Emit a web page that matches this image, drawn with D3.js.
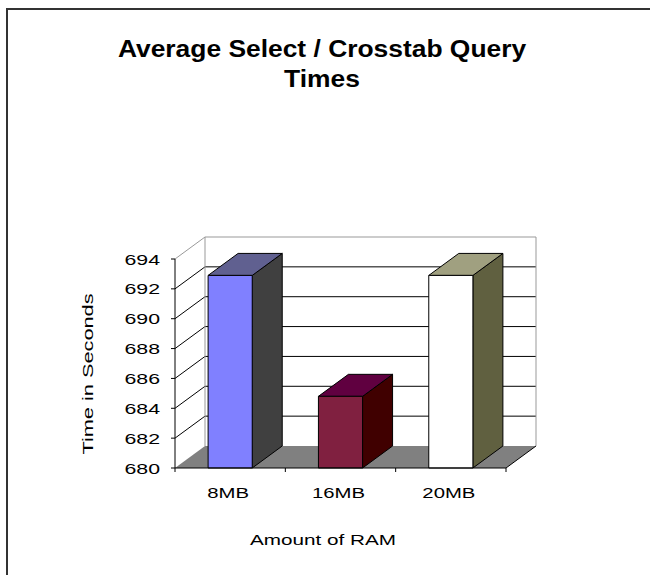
<!DOCTYPE html>
<html>
<head>
<meta charset="utf-8">
<script src="https://cdn.jsdelivr.net/npm/d3@7"></script>
<style>
  html, body { margin: 0; padding: 0; background: #fff; overflow: hidden; }
  svg { display: block; }
  text { font-family: "Liberation Sans", Arial, sans-serif; fill: #000; }
</style>
</head>
<body>
<svg id="chart" width="650" height="575"></svg>
<script>
// ---- data ----
const categories = ["8MB", "16MB", "20MB"];
const values = [692.9, 684.8, 692.9];
const yTicks = [680, 682, 684, 686, 688, 690, 692, 694];
const titleLines = ["Average Select / Crosstab Query", "Times"];
const xTitle = "Amount of RAM";
const yTitle = "Time in Seconds";
const frontColors = ["#8080FF", "#802040", "#FFFFFF"];
const topColors = ["#606090", "#600040", "#A0A080"];
const sideColors = ["#404040", "#400000", "#606040"];

// ---- layout ----
const svg = d3.select("#chart");
const X0 = 175, X1 = 506, YB = 468, YT = 259;
const DX = 30, DY = -22;

const y = d3.scaleLinear().domain([680, 694]).range([YB, YT]);
const x = d3.scaleBand().domain(categories).range([X0, X1]).padding(0);
const bw = x.bandwidth() * 0.4;
const line = d3.line();

// outer border (only top and left edges are inside the picture)
svg.append("path").attr("d", line([[7, 600], [7, 9], [660, 9]]))
  .attr("fill", "none").attr("stroke", "#333").attr("stroke-width", 2);

// helper for stretched text
function stext(g, str, tx, ty, size, sx, opts = {}) {
  const t = g.append("text")
    .attr("transform", `translate(${tx},${ty})${opts.rotate ? ` rotate(${opts.rotate})` : ""} scale(${sx},1)`)
    .attr("font-size", size)
    .attr("text-anchor", opts.anchor || "middle")
    .text(str);
  if (opts.bold) t.attr("font-weight", "bold");
  return t;
}

// title
titleLines.forEach((l, i) => stext(svg, l, 322, 57 + i * 30, 24, 1.1, { bold: true }));

const yMin = y(680), yMax = y(694);

// left side wall
svg.append("path")
  .attr("d", line([[X0, yMax], [X0 + DX, yMax + DY], [X0 + DX, yMin + DY], [X0, yMin]]) + "Z")
  .attr("fill", "#fff").attr("stroke", "none");
// back wall
svg.append("rect").attr("x", X0 + DX).attr("y", yMax + DY)
  .attr("width", X1 - X0).attr("height", yMin - yMax).attr("fill", "#fff");

// floor
svg.append("path")
  .attr("d", line([[X0, yMin], [X0 + DX, yMin + DY], [X1 + DX, yMin + DY], [X1, yMin]]) + "Z")
  .attr("fill", "#808080").attr("stroke", "none");

// gridlines
yTicks.filter(v => v > 680).forEach(v => {
  const c = v === 694 ? "#999" : "#000";
  svg.append("path").attr("d", line([[X0, y(v)], [X0 + DX, y(v) + DY], [X1 + DX, y(v) + DY]]))
    .attr("fill", "none").attr("stroke", c).attr("stroke-width", 1);
});
// wall edges
svg.append("path").attr("d", line([[X0 + DX, yMin + DY], [X0 + DX, yMax + DY]]))
  .attr("stroke", "#999").attr("fill", "none");
svg.append("path").attr("d", line([[X1 + DX, yMin + DY], [X1 + DX, yMax + DY]]))
  .attr("stroke", "#999").attr("fill", "none");
// floor front-right edge
svg.append("path").attr("d", line([[X1, yMin], [X1 + DX, yMin + DY]]))
  .attr("stroke", "#000").attr("fill", "none");

// bars
const bars = svg.append("g");
categories.forEach((c, i) => {
  const bx0 = x(c) + (x.bandwidth() - bw) / 2, bx1 = bx0 + bw;
  const yt = y(values[i]);
  const g = bars.append("g").attr("stroke", "#000").attr("stroke-width", 1).attr("stroke-linejoin", "round");
  g.append("path").attr("d", line([[bx1, yt], [bx1 + DX, yt + DY], [bx1 + DX, yMin + DY], [bx1, yMin]]) + "Z")
    .attr("fill", sideColors[i]);
  g.append("path").attr("d", line([[bx0, yt], [bx0 + DX, yt + DY], [bx1 + DX, yt + DY], [bx1, yt]]) + "Z")
    .attr("fill", topColors[i]);
  g.append("rect").attr("x", bx0).attr("y", yt).attr("width", bw).attr("height", yMin - yt)
    .attr("fill", frontColors[i]);
});

// y axis
svg.append("line").attr("x1", X0).attr("x2", X0).attr("y1", yMax).attr("y2", yMin).attr("stroke", "#000");
yTicks.forEach(v => {
  svg.append("line").attr("x1", X0 - 4).attr("x2", X0).attr("y1", y(v)).attr("y2", y(v)).attr("stroke", "#000");
  stext(svg, String(v), 160, y(v) + 5.5, 15, 1.42, { anchor: "end" });
});

// x axis
svg.append("line").attr("x1", X0).attr("x2", X1).attr("y1", yMin).attr("y2", yMin).attr("stroke", "#000");
const bounds = categories.map(c => x(c)).concat([X1]);
bounds.forEach(b => svg.append("line").attr("x1", b).attr("x2", b).attr("y1", yMin).attr("y2", yMin + 4).attr("stroke", "#000"));
categories.forEach(c => stext(svg, c, x(c) + x.bandwidth() / 2 - 2, 498, 14.5, 1.4));

// axis titles
stext(svg, xTitle, 323, 545, 15, 1.38);
stext(svg, yTitle, 93, 374, 15, 1.45, { rotate: -90 });
</script>
</body>
</html>
